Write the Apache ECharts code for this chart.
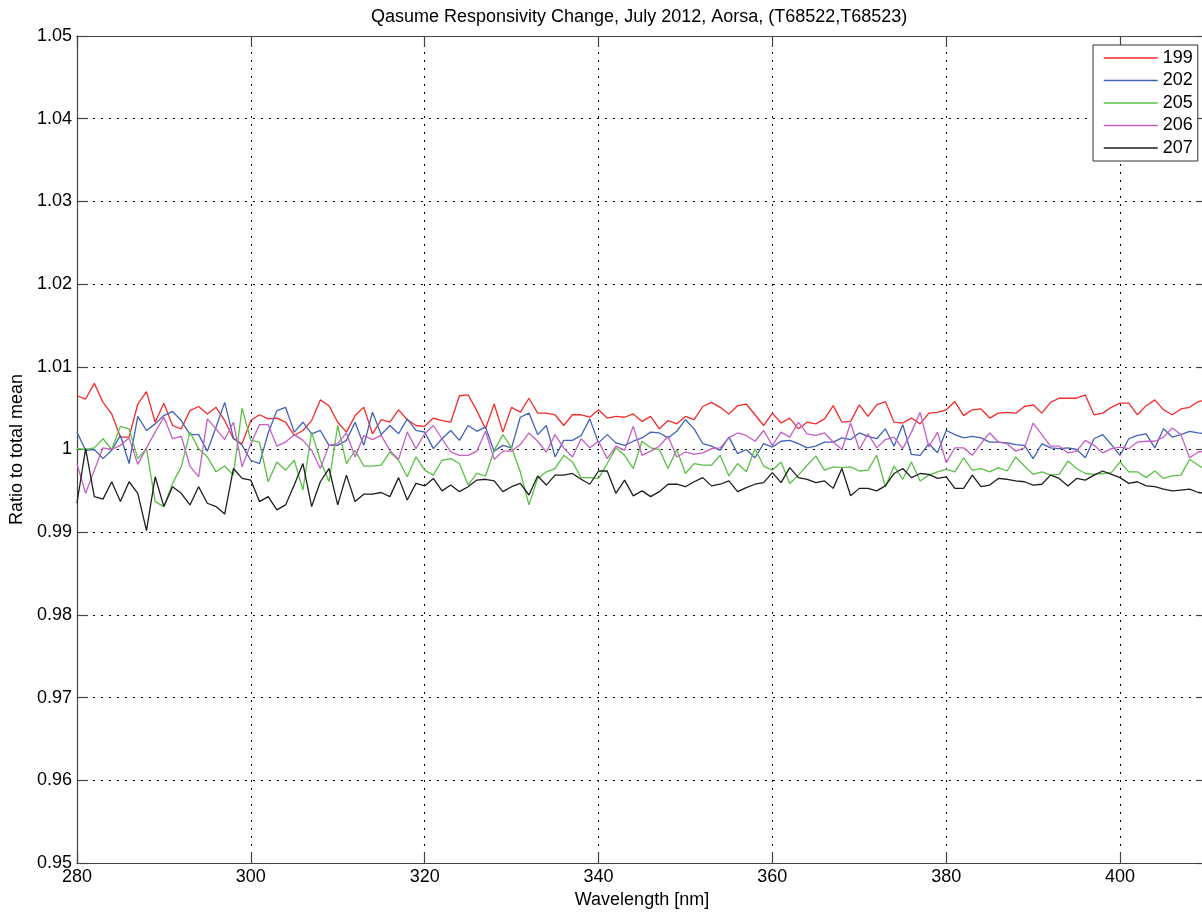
<!DOCTYPE html>
<html>
<head>
<meta charset="utf-8">
<script src="https://cdn.jsdelivr.net/npm/echarts@6/dist/echarts.min.js"></script>
<style>
html,body{margin:0;padding:0;background:#fff;overflow:hidden;}
#c{width:1215px;height:915px;}
</style>
</head>
<body>
<div id="c"></div>
<script>
// Wavelength sampling (nm), 1 nm steps from 280 to 410
const wavelengths = Array.from({length: 131}, (_, i) => 280 + i);

const xTicks = [280, 300, 320, 340, 360, 380, 400];
const yTicks = [0.95, 0.96, 0.97, 0.98, 0.99, 1.00, 1.01, 1.02, 1.03, 1.04, 1.05];
const seriesNames = ['199', '202', '205', '206', '207'];

const r199 = [
  1.0065, 1.0061, 1.0080, 1.0057, 1.0043, 1.0015, 1.0015, 1.0055, 1.0070, 1.0033,
  1.0056, 1.0029, 1.0025, 1.0047, 1.0052, 1.0043, 1.0051, 1.0035, 1.0013, 1.0007,
  1.0035, 1.0042, 1.0037, 1.0038, 1.0033, 1.0017, 1.0023, 1.0035, 1.0060, 1.0053,
  1.0033, 1.0021, 1.0041, 1.0051, 1.0019, 1.0036, 1.0033, 1.0048, 1.0036, 1.0029,
  1.0028, 1.0038, 1.0035, 1.0033, 1.0065, 1.0066, 1.0047, 1.0025, 1.0055, 1.0021,
  1.0051, 1.0045, 1.0062, 1.0044, 1.0044, 1.0042, 1.0029, 1.0042, 1.0042, 1.0039,
  1.0048, 1.0038, 1.0040, 1.0039, 1.0043, 1.0034, 1.0040, 1.0025, 1.0035, 1.0031,
  1.0040, 1.0036, 1.0052, 1.0057, 1.0051, 1.0043, 1.0053, 1.0055, 1.0042, 1.0029,
  1.0044, 1.0032, 1.0038, 1.0025, 1.0033, 1.0031, 1.0037, 1.0053, 1.0033, 1.0034,
  1.0054, 1.0040, 1.0054, 1.0058, 1.0033, 1.0032, 1.0038, 1.0031, 1.0044, 1.0045,
  1.0048, 1.0058, 1.0041, 1.0048, 1.0049, 1.0038, 1.0044, 1.0045, 1.0044, 1.0052,
  1.0054, 1.0044, 1.0057, 1.0062, 1.0062, 1.0062, 1.0066, 1.0042, 1.0044, 1.0051,
  1.0056, 1.0056, 1.0042, 1.0053, 1.0060, 1.0048, 1.0042, 1.0049, 1.0051, 1.0058,
  1.0060
];

const b202 = [
  1.0021, 0.9999, 1.0000, 0.9989, 0.9999, 1.0017, 0.9983, 1.0040, 1.0023, 1.0031,
  1.0041, 1.0046, 1.0035, 1.0018, 1.0018, 0.9998, 1.0027, 1.0057, 1.0014, 1.0005,
  0.9987, 0.9983, 1.0020, 1.0047, 1.0051, 1.0021, 1.0033, 1.0019, 1.0023, 1.0005,
  1.0005, 1.0011, 1.0033, 1.0005, 1.0045, 1.0018, 1.0029, 1.0019, 1.0037, 1.0023,
  1.0021, 1.0001, 1.0013, 1.0023, 1.0011, 1.0029, 1.0022, 1.0027, 0.9998, 1.0005,
  1.0002, 1.0039, 1.0044, 1.0018, 1.0029, 0.9991, 1.0011, 1.0011, 1.0017, 1.0037,
  1.0008, 1.0018, 1.0008, 1.0005, 1.0010, 1.0014, 1.0021, 1.0020, 1.0014, 1.0022,
  1.0036, 1.0025, 1.0007, 1.0004, 0.9999, 1.0015, 0.9995, 1.0000, 0.9990, 1.0007,
  1.0003, 1.0010, 1.0011, 1.0007, 1.0002, 1.0004, 1.0009, 1.0009, 1.0014, 1.0012,
  1.0020, 1.0016, 1.0013, 1.0025, 1.0004, 1.0030, 0.9994, 0.9993, 1.0007, 0.9996,
  1.0023, 1.0018, 1.0014, 1.0016, 1.0014, 1.0009, 1.0009, 1.0008, 1.0006, 1.0005,
  0.9989, 1.0007, 1.0002, 1.0001, 1.0002, 1.0000, 0.9990, 1.0013, 1.0018, 1.0006,
  0.9993, 1.0013, 1.0017, 1.0019, 1.0002, 1.0025, 1.0015, 1.0018, 1.0022, 1.0020,
  1.0019
];

const g205 = [
  1.0001, 1.0000, 1.0002, 1.0013, 1.0000, 1.0028, 1.0025, 0.9989, 1.0001, 0.9937,
  0.9931, 0.9959, 0.9979, 1.0021, 1.0001, 0.9991, 0.9973, 0.9980, 0.9969, 1.0050,
  1.0011, 1.0009, 0.9961, 0.9985, 0.9975, 0.9987, 0.9951, 1.0021, 0.9987, 0.9961,
  1.0029, 0.9983, 0.9999, 0.9980, 0.9980, 0.9981, 0.9997, 0.9987, 0.9967, 0.9991,
  0.9975, 0.9969, 0.9987, 0.9989, 0.9983, 0.9957, 0.9971, 0.9968, 0.9999, 1.0018,
  1.0002, 0.9973, 0.9933, 0.9965, 0.9973, 0.9977, 0.9993, 0.9985, 0.9966, 0.9966,
  0.9965, 0.9983, 1.0002, 0.9993, 0.9977, 1.0010, 1.0002, 1.0000, 0.9977, 1.0000,
  0.9971, 0.9983, 0.9981, 0.9981, 0.9993, 0.9968, 0.9983, 0.9973, 1.0001, 0.9980,
  0.9975, 0.9985, 0.9959, 0.9969, 0.9981, 0.9992, 0.9975, 0.9979, 0.9978, 0.9979,
  0.9974, 0.9975, 0.9993, 0.9955, 0.9980, 0.9964, 0.9985, 0.9962, 0.9969, 0.9973,
  0.9976, 0.9973, 0.9990, 0.9975, 0.9977, 0.9973, 0.9978, 0.9974, 0.9991, 0.9980,
  0.9970, 0.9973, 0.9969, 0.9970, 0.9986, 0.9977, 0.9971, 0.9970, 0.9971, 0.9972,
  0.9985, 0.9973, 0.9973, 0.9966, 0.9974, 0.9965, 0.9968, 0.9969, 0.9988, 0.9981,
  0.9975
];

const m206 = [
  0.9983, 0.9947, 0.9975, 1.0002, 1.0000, 1.0005, 1.0014, 0.9982, 1.0002, 1.0021,
  1.0039, 1.0013, 1.0016, 0.9980, 0.9967, 1.0037, 1.0025, 1.0012, 1.0033, 0.9979,
  1.0007, 1.0030, 1.0030, 1.0004, 1.0009, 1.0018, 1.0011, 0.9999, 0.9977, 1.0005,
  1.0007, 1.0020, 0.9991, 1.0017, 1.0012, 1.0017, 0.9999, 0.9988, 1.0021, 1.0001,
  1.0019, 1.0029, 1.0013, 0.9997, 0.9993, 0.9993, 0.9998, 1.0022, 0.9988, 0.9998,
  0.9998, 1.0006, 1.0020, 1.0010, 0.9997, 1.0018, 1.0002, 0.9991, 1.0013, 1.0002,
  1.0010, 0.9989, 1.0004, 0.9999, 1.0028, 0.9993, 0.9998, 1.0004, 1.0016, 0.9991,
  0.9997, 0.9994, 0.9996, 1.0001, 1.0002, 1.0014, 1.0020, 1.0017, 1.0010, 1.0023,
  1.0005, 1.0021, 1.0015, 1.0033, 1.0019, 1.0017, 1.0020, 1.0009, 1.0000, 1.0032,
  1.0000, 1.0019, 1.0002, 1.0012, 1.0015, 1.0001, 1.0021, 1.0045, 1.0003, 1.0021,
  0.9984, 1.0002, 1.0002, 0.9993, 1.0007, 1.0020, 1.0009, 1.0007, 0.9998, 1.0002,
  1.0032, 1.0018, 1.0004, 1.0004, 0.9996, 0.9998, 1.0011, 1.0005, 0.9996, 1.0001,
  1.0003, 1.0001, 1.0009, 1.0010, 1.0010, 1.0015, 1.0026, 1.0018, 0.9990, 0.9997,
  0.9998
];

const k207 = [
  0.9935, 1.0001, 0.9943, 0.9940, 0.9961, 0.9937, 0.9961, 0.9947, 0.9902, 0.9967,
  0.9931, 0.9955, 0.9947, 0.9933, 0.9955, 0.9935, 0.9931, 0.9922, 0.9977, 0.9965,
  0.9963, 0.9937, 0.9943, 0.9927, 0.9933, 0.9957, 0.9983, 0.9931, 0.9961, 0.9977,
  0.9933, 0.9969, 0.9937, 0.9946, 0.9946, 0.9948, 0.9943, 0.9966, 0.9939, 0.9959,
  0.9956, 0.9965, 0.9950, 0.9957, 0.9949, 0.9955, 0.9963, 0.9964, 0.9962, 0.9949,
  0.9955, 0.9959, 0.9945, 0.9968, 0.9957, 0.9969, 0.9969, 0.9971, 0.9964, 0.9958,
  0.9974, 0.9974, 0.9947, 0.9963, 0.9944, 0.9950, 0.9943, 0.9949, 0.9958, 0.9958,
  0.9955, 0.9961, 0.9966, 0.9956, 0.9958, 0.9962, 0.9949, 0.9954, 0.9958, 0.9960,
  0.9972, 0.9960, 0.9978, 0.9966, 0.9964, 0.9960, 0.9962, 0.9953, 0.9977, 0.9944,
  0.9953, 0.9953, 0.9950, 0.9956, 0.9971, 0.9977, 0.9966, 0.9971, 0.9970, 0.9965,
  0.9967, 0.9953, 0.9953, 0.9969, 0.9955, 0.9957, 0.9965, 0.9964, 0.9962, 0.9961,
  0.9957, 0.9958, 0.9969, 0.9965, 0.9956, 0.9965, 0.9963, 0.9969, 0.9974, 0.9970,
  0.9966, 0.9959, 0.9961, 0.9956, 0.9955, 0.9952, 0.9950, 0.9951, 0.9952, 0.9948,
  0.9947
];

const seriesValues = [r199, b202, g205, m206, k207];
const seriesColors = ['#f42b2b', '#4262b8', '#5cbf48', '#c45fc4', '#1e1e1e'];

const FONT = '"Liberation Sans", Arial, Helvetica, sans-serif';
const chart = echarts.init(document.getElementById('c'), null, {renderer: 'canvas'});

const gridLine = {show: true, lineStyle: {color: '#000', width: 1, type: [2, 6]}};
const axisLineStyle = {color: '#444', width: 1.2};

const series = seriesNames.map((name, si) => ({
  name: name,
  type: 'line',
  xAxisIndex: 0,
  yAxisIndex: 0,
  symbol: 'none',
  showSymbol: false,
  animation: false,
  lineStyle: {color: seriesColors[si], width: 1.3},
  itemStyle: {color: seriesColors[si]},
  data: wavelengths.map((w, i) => [w, seriesValues[si][i]])
}));

chart.setOption({
  backgroundColor: '#fff',
  animation: false,
  textStyle: {fontFamily: FONT},
  graphic: [{
    type: 'text',
    left: 641 - 270,
    top: 8,
    style: {
      text: 'Qasume Responsivity Change, July 2012, Aorsa, (T68522,T68523)',
      font: '18px ' + FONT,
      fill: '#000',
      width: 540,
      align: 'center'
    }
  }],
  grid: {left: 76, right: 8, top: 36, bottom: 52, containLabel: false},
  legend: {
    orient: 'vertical',
    left: 1093,
    top: 45,
    itemWidth: 54,
    itemHeight: 18,
    itemGap: 4.5,
    padding: [4, 5, 4, 10],
    borderColor: '#333',
    borderWidth: 1,
    backgroundColor: '#fff',
    itemStyle: {opacity: 0},
    lineStyle: {width: 1.5},
    textStyle: {fontSize: 18, color: '#000', fontFamily: FONT},
    data: seriesNames
  },
  xAxis: [{
    type: 'value',
    position: 'bottom',
    min: xTicks[0],
    max: 410,
    interval: 20,
    name: 'Wavelength [nm]',
    nameLocation: 'middle',
    nameGap: 27,
    nameTextStyle: {fontSize: 18, color: '#000', fontFamily: FONT},
    axisLine: {show: true, lineStyle: axisLineStyle},
    axisTick: {show: true, inside: true, length: 11, lineStyle: axisLineStyle},
    axisLabel: {
      fontSize: 18, color: '#000', margin: 5, fontFamily: FONT,
      formatter: v => (xTicks.indexOf(v) >= 0 ? String(v) : ''),
      showMaxLabel: false
    },
    splitLine: gridLine
  }, {
    type: 'value',
    position: 'top',
    min: xTicks[0],
    max: 410,
    interval: 20,
    axisLine: {show: true, lineStyle: axisLineStyle},
    axisTick: {show: true, inside: true, length: 11, lineStyle: axisLineStyle},
    axisLabel: {show: false},
    splitLine: {show: false}
  }],
  yAxis: [{
    type: 'value',
    min: yTicks[0],
    max: yTicks[yTicks.length - 1],
    interval: 0.01,
    name: 'Ratio to total mean',
    nameLocation: 'middle',
    nameRotate: 90,
    nameGap: 50,
    nameTextStyle: {fontSize: 18, color: '#000', fontFamily: FONT},
    axisLine: {show: true, lineStyle: axisLineStyle},
    axisTick: {show: true, inside: true, length: 11, lineStyle: axisLineStyle},
    axisLabel: {
      fontSize: 18, color: '#000', margin: 5, fontFamily: FONT,
      formatter: v => String(+(+v).toFixed(2))
    },
    splitLine: gridLine
  }, {
    type: 'value',
    position: 'right',
    min: yTicks[0],
    max: yTicks[yTicks.length - 1],
    interval: 0.01,
    axisLine: {show: true, lineStyle: axisLineStyle},
    axisTick: {show: true, inside: true, length: 11, lineStyle: axisLineStyle},
    axisLabel: {show: false},
    splitLine: {show: false}
  }],
  series: series
});
</script>
</body>
</html>
